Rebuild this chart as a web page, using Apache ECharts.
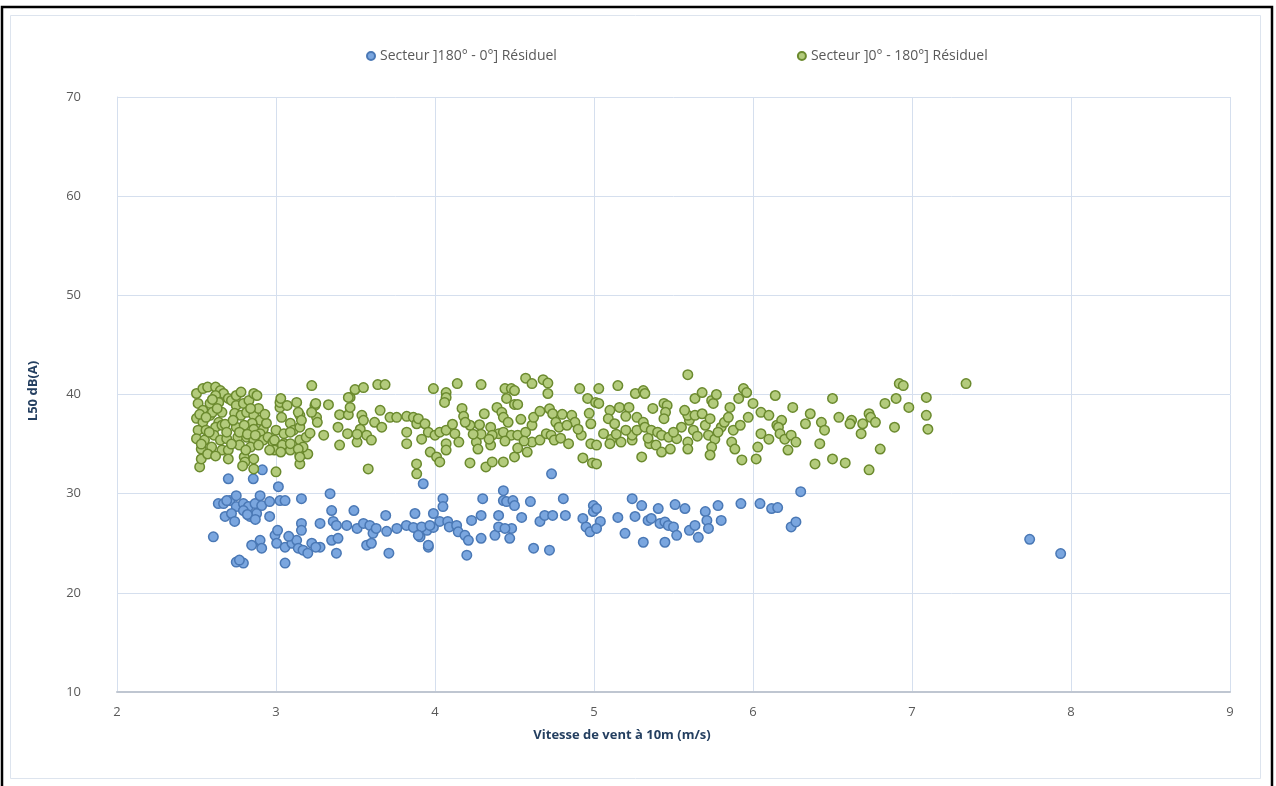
<!DOCTYPE html>
<html>
<head>
<meta charset="utf-8">
<script src="https://cdn.jsdelivr.net/npm/echarts@6/dist/echarts.min.js"></script>
<style>
html,body{margin:0;padding:0;background:#fff;}
#chart{width:1276px;height:786px;}
</style>
</head>
<body>
<div id="chart"></div>
<script>
// ---- Data ----
var seriesNames = ["Secteur ]180° - 0°] Résiduel", "Secteur ]0° - 180°] Résiduel"];
var xTitle = "Vitesse de vent à 10m (m/s)";
var yTitle = "L50 dB(A)";

var sectorSouth = [
[2.606,25.65],[2.70,31.5],[2.857,31.5],[2.914,32.4],
[2.637,29.0],[2.67,29.0],[2.71,29.3],[2.75,29.8],[2.75,28.7],[2.795,29.0],[2.826,28.7],[2.868,29.0],[2.90,29.8],[2.91,28.8],
[2.68,27.7],[2.72,28.0],[2.74,27.2],[2.795,28.3],[2.836,27.7],[2.878,28.0],
[2.96,29.2],[3.015,30.7],[3.025,29.3],[3.057,29.3],[2.96,27.7],
[3.16,29.5],[3.16,27.0],[3.16,26.3],[3.277,27.0],[3.34,30.0],[3.35,28.3],[3.36,27.2],[3.38,26.8],
[2.75,23.1],[2.795,23.0],[2.77,23.3],
[2.847,24.8],[2.90,25.3],[2.91,24.5],[2.994,25.8],[3.004,25.0],[3.057,24.6],[3.057,23.0],[3.10,25.0],[3.13,25.3],[3.14,24.5],[3.17,24.3],[3.20,24.0],[3.225,25.0],[3.277,24.6],
[3.35,25.3],[3.39,25.5],[3.38,24.0],
[3.445,26.8],[3.51,26.5],[3.55,27.0],[3.59,26.8],[3.61,26.0],[3.57,24.8],[3.60,25.0],
[3.49,28.3],[3.69,27.8],[3.71,24.0],
[3.63,26.5],[3.696,26.2],[3.76,26.5],[3.82,26.8],[3.864,26.6],[3.906,25.65],[3.95,26.3],[3.958,24.6],[3.99,26.6],[3.874,28.0],[3.99,28.0],
[3.926,31.0],[4.05,29.5],[4.05,28.7],
[3.916,26.65],[3.968,26.8],[4.03,27.2],[4.08,27.2],[4.09,26.65],[4.136,26.8],[4.146,26.15],[4.188,25.8],[4.21,25.3],[3.958,24.8],[3.895,25.8],
[4.20,23.8],[4.23,27.3],[4.29,27.8],[4.29,25.5],[4.30,29.5],
[4.40,27.8],[4.377,25.8],[4.40,26.65],[4.43,30.3],[4.43,29.3],[4.45,29.2],[4.49,29.3],[4.50,28.8],[4.482,26.5],[4.47,25.5],[4.44,26.5],
[4.545,27.6],[4.60,29.2],[4.62,24.5],[4.72,24.3],
[4.66,27.2],[4.69,27.8],[4.74,27.8],[4.807,29.5],[4.82,27.8],[4.733,32.0],
[4.93,27.5],[4.95,26.65],[4.996,28.8],[4.996,28.2],[4.975,26.15],
[5.016,28.5],[5.04,27.2],[5.016,26.5],
[5.15,27.6],[5.195,26.0],[5.24,29.5],[5.258,27.7],[5.30,28.8],
[5.31,25.1],[5.34,27.3],[5.36,27.5],[5.404,28.5],[5.415,27.0],[5.446,27.15],[5.467,26.8],[5.50,26.65],[5.51,28.9],[5.52,25.8],[5.446,25.1],
[5.572,28.5],[5.60,26.3],[5.635,26.8],[5.656,25.6],[5.70,28.2],[5.71,27.3],[5.72,26.5],[5.78,28.8],[5.80,27.3],
[5.924,29.0],[6.044,29.0],[6.117,28.5],[6.155,28.6],
[6.30,30.2],[6.24,26.65],[6.27,27.15],
[7.74,25.4],[7.935,23.96],
[2.69,29.3],[2.82,27.9],[2.87,27.4],[3.01,26.3],[3.08,25.7],[3.25,24.6]
];

var sectorNorth = [
[2.50,40.1],[2.54,40.6],[2.57,40.75],[2.62,40.75],[2.65,40.4],[2.67,40.1],
[2.51,39.1],[2.54,38.4],[2.585,39.1],[2.62,39.9],[2.64,39.2],[2.70,39.6],[2.72,39.4],
[2.50,37.6],[2.54,37.2],[2.585,37.9],[2.60,38.2],[2.66,38.2],[2.64,37.2],
[2.51,36.4],[2.56,36.4],[2.62,36.7],[2.66,36.9],[2.61,35.9],
[2.50,35.55],[2.55,35.4],[2.595,34.7],[2.65,35.4],[2.69,35.55],[2.53,34.5],[2.66,34.4],[2.70,34.4],
[2.52,32.7],[2.53,33.5],[2.70,33.5],
[2.75,39.9],[2.78,40.25],[2.75,38.9],[2.795,39.1],[2.83,39.4],[2.86,40.1],
[2.74,38.1],[2.78,37.9],[2.815,38.2],[2.86,37.9],[2.89,38.6],[2.90,37.4],[2.85,37.1],
[2.75,36.7],[2.80,36.9],[2.86,36.5],[2.92,36.5],[2.94,37.1],[2.90,36.05],
[2.76,35.7],[2.815,35.7],[2.86,35.4],[2.92,35.4],[2.95,35.7],[2.77,34.9],[2.84,34.7],[2.89,34.9],
[2.80,33.7],[2.805,33.2],[2.86,33.5],[2.86,32.5],
[2.98,35.2],[2.99,34.4],[2.96,34.4],[3.00,32.2],
[3.00,36.4],[3.035,37.7],[3.025,38.7],[3.025,39.2],[3.07,38.9],
[2.99,35.4],[3.05,35.05],[3.09,34.4],[3.15,33.0],[3.15,33.9],[3.20,34.0],
[3.09,37.1],[3.11,36.4],[3.15,36.7],[3.15,37.9],[3.13,39.2],
[3.15,35.4],[3.17,34.7],[3.19,35.7],[3.245,38.9],[3.255,37.7],[3.224,38.2],
[2.52,38.0],[2.56,37.7],[2.58,36.2],[2.53,35.0],[2.60,39.5],[2.63,38.6],[2.68,37.0],[2.57,34.0],[2.62,33.8],[2.69,36.2],
[2.72,35.0],[2.73,37.4],[2.77,36.2],[2.82,36.0],[2.88,39.9],[2.93,38.0],[2.84,38.6],[2.81,34.4],[2.87,35.9],[2.79,32.8],
[3.03,39.6],[3.14,38.2],[3.16,37.4],[3.05,36.05],[3.09,36.2],[3.04,34.9],[3.09,35.04],[3.03,34.2],[3.14,34.5],[3.15,33.7],
[3.225,40.9],[3.25,39.1],[3.26,37.2],[3.214,36.1],[3.30,35.9],[3.33,38.97],[3.40,37.96],[3.455,37.96],[3.39,36.7],[3.40,34.9],
[3.466,39.7],[3.466,38.7],[3.497,40.5],[3.55,40.7],[3.45,36.05],[3.51,35.2],[3.54,37.9],[3.55,37.4],[3.53,36.5],[3.57,35.9],
[3.60,35.4],[3.62,37.2],[3.655,38.4],[3.665,36.7],[3.64,41.0],[3.686,41.0],[3.58,32.5],[3.717,37.7],[3.759,37.7],[3.822,37.8],
[3.864,37.7],[3.885,37.05],[3.822,36.2],[3.822,35.04],[3.885,32.0],[3.455,39.7],[3.51,36.0],
[3.99,40.6],[4.07,40.2],[4.07,39.7],[4.06,39.2],[4.14,41.1],[4.29,41.0],[4.44,40.6],[4.48,40.6],[4.50,40.4],[4.45,39.6],
[4.50,39.0],[4.52,39.0],[4.57,41.65],[4.61,41.1],[4.68,41.5],[4.71,41.15],[4.71,40.1],[4.91,40.6],[4.96,39.6],[5.01,39.2],
[4.97,38.1],[4.98,37.05],[4.92,35.9],[4.98,35.04],[4.93,33.6],[4.99,33.1],
[4.17,38.6],[4.18,37.8],[4.22,36.9],[4.28,36.95],[4.31,38.06],[4.39,38.7],[4.42,38.2],[4.43,37.7],[4.35,36.7],[4.40,36.05],[4.43,36.2],
[3.895,37.56],[3.937,37.05],[3.958,36.2],[3.916,35.5],[4.00,35.9],[4.03,36.2],[4.07,36.4],[4.125,36.05],[4.15,35.2],
[3.97,34.2],[4.01,33.7],[4.03,33.2],[4.07,35.04],[4.07,34.4],[4.26,35.2],[4.27,34.5],[4.35,34.9],
[4.22,33.1],[4.32,32.7],[4.36,33.2],[4.43,33.2],[4.50,33.7],[4.58,34.2],
[4.48,35.9],[4.52,35.9],[4.57,36.2],[4.61,36.9],[4.62,37.7],
[4.61,35.2],[4.66,35.4],[4.70,36.05],[4.72,38.56],[4.74,38.06],[4.76,37.2],[4.78,36.7],
[4.84,35.04],[4.86,37.9],[4.88,37.2],[4.83,36.9],[4.73,35.9],[4.75,35.4],[3.884,33.0],
[4.36,35.9],[4.34,35.5],[4.44,35.3],[4.56,35.3],[4.29,36.0],[4.19,37.2],[4.11,37.0],[4.24,36.0],[4.46,37.2],[4.54,37.5],
[4.66,38.3],[4.80,38.0],[4.90,36.5],[4.79,35.6],[4.52,34.6],
[5.03,40.6],[5.15,40.9],[5.26,40.1],[5.31,40.4],[5.32,40.1],[5.59,42.0],[5.03,39.1],[5.10,38.4],[5.16,38.7],[5.22,38.7],
[5.09,37.56],[5.13,37.05],[5.06,36.05],[5.11,35.5],[5.10,35.04],
[5.17,35.2],[5.24,35.4],[5.24,35.9],[5.27,36.4],[5.27,37.7],[5.31,37.2],[5.32,36.7],
[5.37,38.6],[5.44,39.1],[5.46,38.9],[5.45,38.2],[5.44,37.56],
[5.36,36.4],[5.40,36.2],[5.425,35.9],[5.47,35.7],[5.52,35.54],
[5.35,35.04],[5.39,34.9],[5.425,34.2],[5.48,34.5],[5.30,33.7],
[5.55,36.7],[5.60,37.4],[5.59,37.9],[5.625,36.4],[5.59,35.2],[5.59,34.5],[5.635,37.9],
[5.635,39.6],[5.68,40.2],[5.74,39.4],[5.75,39.1],[5.77,40.0],
[5.68,38.06],[5.70,36.9],[5.73,37.56],[5.72,35.9],[5.76,35.5],[5.74,34.7],[5.73,33.9],
[5.80,36.7],[5.82,37.2],[5.845,37.7],[5.855,38.7],[5.866,35.2],[5.886,34.5],[5.876,36.4],
[5.91,39.6],[5.94,40.6],[5.96,40.2],[5.97,37.7],[5.92,36.9],[5.93,33.4],
[6.00,39.1],[6.05,38.2],[6.10,37.9],[6.03,34.7],[6.02,33.5],[6.05,36.05],[6.10,35.5],
[6.14,39.9],[6.15,36.9],[5.016,33.0],[5.016,34.9],
[5.20,36.4],[5.14,36.0],[5.34,35.6],[5.50,36.2],[5.65,35.8],[5.78,36.2],[5.20,37.8],[5.57,38.4],
[6.25,38.7],[6.18,37.4],[6.16,36.7],[6.17,36.05],[6.20,35.5],[6.24,35.9],[6.27,35.2],[6.22,34.4],
[6.36,38.06],[6.33,37.05],[6.43,37.2],[6.45,36.4],[6.42,35.04],
[6.50,39.6],[6.54,37.7],[6.62,37.4],[6.61,37.05],[6.69,37.05],[6.68,36.05],[6.73,38.06],[6.74,37.7],[6.77,37.2],
[6.39,33.0],[6.50,33.5],[6.58,33.1],[6.73,32.4],[6.80,34.5],
[6.83,39.1],[6.90,39.6],[6.89,36.7],[6.92,41.1],[6.945,40.9],[6.98,38.7],
[7.09,39.7],[7.09,37.9],[7.10,36.5],[7.34,41.1]
];

var xTicks = {min: 2, max: 9, step: 1};
var yTicks = {min: 10, max: 70, step: 10};

// ---- Chart ----
var chart = echarts.init(document.getElementById('chart'), null, {renderer: 'canvas'});
var labelFont = '"Open Sans", Lato, sans-serif';
var option = {
  backgroundColor: '#ffffff',
  animation: false,
  graphic: [
    {type: 'rect', shape: {x: 2, y: 7, width: 1270, height: 790}, style: {fill: 'none', stroke: '#000', lineWidth: 2.5}, silent: true, z: -10},
    {type: 'rect', shape: {x: 10.5, y: 15.5, width: 1250, height: 763}, style: {fill: 'none', stroke: '#dde4ee', lineWidth: 1}, silent: true, z: -10},
    {type: 'text', x: 622, y: 735, style: {text: xTitle, x: 0, y: 0, align: 'center', verticalAlign: 'middle', font: 'bold 13px ' + labelFont, fill: '#243f60'}},
    {type: 'text', x: 33, y: 391, rotation: Math.PI / 2, style: {text: yTitle, x: 0, y: 0, align: 'center', verticalAlign: 'middle', font: 'bold 13px ' + labelFont, fill: '#243f60'}}
  ],
  legend: {
    left: 361, top: 44,
    itemWidth: 8, itemHeight: 8, itemGap: 240,
    icon: 'circle',
    textStyle: {fontFamily: labelFont, fontSize: 14, color: '#595959', padding: [0, 0, 0, 0]},
    data: seriesNames
  },
  grid: {left: 117, right: 46, top: 97, bottom: 94, containLabel: false},
  xAxis: {
    type: 'value', min: xTicks.min, max: xTicks.max, interval: xTicks.step,
    axisLine: {show: true, onZero: false, lineStyle: {color: '#bfc6d1', width: 2}},
    axisTick: {show: false},
    splitLine: {show: true, lineStyle: {color: '#d5dfee', width: 1}},
    axisLabel: {color: '#595959', fontFamily: labelFont, fontSize: 13, margin: 14}
  },
  yAxis: {
    type: 'value', min: yTicks.min, max: yTicks.max, interval: yTicks.step,
    axisLine: {show: true, lineStyle: {color: '#d5dfee', width: 1}},
    axisTick: {show: false},
    splitLine: {show: true, lineStyle: {color: '#d5dfee', width: 1}},
    axisLabel: {color: '#595959', fontFamily: labelFont, fontSize: 13, margin: 36}
  },
  series: [
    {
      name: seriesNames[0], type: 'scatter', data: sectorSouth,
      symbol: 'circle', symbolSize: 9.5,
      itemStyle: {color: '#7aa6df', borderColor: '#4a78b5', borderWidth: 1.5, opacity: 1}
    },
    {
      name: seriesNames[1], type: 'scatter', data: sectorNorth,
      symbol: 'circle', symbolSize: 9.5,
      itemStyle: {color: '#b3cb7c', borderColor: '#6b8a2e', borderWidth: 1.5, opacity: 1}
    }
  ]
};
chart.setOption(option);
</script>
</body>
</html>
